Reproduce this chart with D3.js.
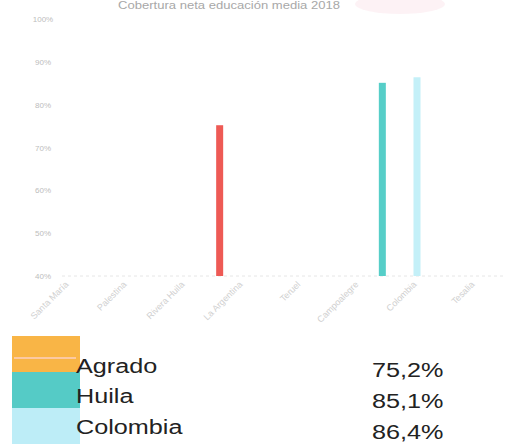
<!DOCTYPE html>
<html><head><meta charset="utf-8">
<script src="https://cdn.jsdelivr.net/npm/d3@7"></script>
<style>body{margin:0;background:#fff}svg{display:block}</style>
</head><body><svg id="c" width="507" height="448"></svg>
<script>
const title = "Cobertura neta educación media 2018";
const categories = ["Santa María","Palestina","Rivera Huila","La Argentina","Teruel","Campoalegre","Colombia","Tesalia"];
const series = ["Agrado","Huila","Colombia"];
const values = [75.2, 85.1, 86.4];
const barCategory = ["La Argentina","Campoalegre","Colombia"];
const slotOrder = ["Agrado","Colombia","Huila"];
const yTicks = [40,50,60,70,80,90,100];
const barColors = ["#ee5a55","#56cec8","#c4f0f8"];
const legendColors = ["#f9b546","#55cbc6","#bdedf7"];
const valueLabels = ["75,2%","85,1%","86,4%"];

const svg = d3.select("#c");
const x = d3.scaleBand().domain(categories).range([40,504]);
const sub = d3.scaleBand().domain(slotOrder).range([-35,35]);
const y = d3.scaleLinear().domain([40,100]).range([276,19]);

// faint title
svg.append("text").attr("x",118).attr("y",9).attr("textLength",222).attr("lengthAdjust","spacingAndGlyphs")
  .attr("font-family","Liberation Sans, Arial").attr("font-size",10).attr("fill","#a8a8a8").text(title);
svg.append("ellipse").attr("cx",400).attr("cy",4).attr("rx",45).attr("ry",10).attr("fill","#fbe9ef").attr("opacity",0.6);

// baseline dashed
svg.append("line").attr("x1",62).attr("x2",504).attr("y1",y(40)).attr("y2",y(40))
  .attr("stroke","#e6e6e6").attr("stroke-dasharray","3,3");

// y labels
svg.append("g").selectAll("text").data(yTicks).join("text")
  .attr("x",43).attr("y",d=>y(d)+3).attr("text-anchor","middle")
  .attr("font-family","Liberation Sans, Arial").attr("font-size",8).attr("fill","#bdbdbd")
  .text(d=>d+"%");

// x labels
svg.append("g").selectAll("text").data(categories).join("text")
  .attr("transform",d=>`translate(${x(d)+x.bandwidth()/2},${285}) rotate(-45)`)
  .attr("text-anchor","end")
  .attr("font-family","Liberation Sans, Arial").attr("font-size",9).attr("fill","#cfcfcf")
  .text(d=>d);

// bars
const bw = 7;
svg.append("g").selectAll("rect").data(series).join("rect")
  .attr("x",(d,i)=>x(barCategory[i])+x.bandwidth()/2+sub(d)+sub.bandwidth()/2-bw/2)
  .attr("width",bw)
  .attr("y",(d,i)=>y(values[i]))
  .attr("height",(d,i)=>y(40)-y(values[i]))
  .attr("fill",(d,i)=>barColors[i]);

// legend
const ly = d3.scaleBand().domain(series).range([336,444]);
const lg = svg.append("g");
lg.selectAll("rect").data(series).join("rect")
  .attr("x",12).attr("width",68).attr("y",d=>ly(d)).attr("height",ly.bandwidth())
  .attr("fill",(d,i)=>legendColors[i]);
lg.append("line").attr("x1",14).attr("x2",76).attr("y1",358).attr("y2",358).attr("stroke","#fcd0c0").attr("stroke-width",1.5);
const nameBase = [373,403,434];
const valBase = [377,408,439];
lg.selectAll("text.n").data(series).join("text").attr("class","n")
  .attr("transform",(d,i)=>`translate(76,${nameBase[i]}) scale(1.2,1)`)
  .attr("font-family","Liberation Sans, Arial").attr("font-size",21).attr("fill","#222")
  .text(d=>d);
lg.selectAll("text.v").data(valueLabels).join("text").attr("class","v")
  .attr("transform",(d,i)=>`translate(372,${valBase[i]}) scale(1.2,1)`)
  .attr("font-family","Liberation Sans, Arial").attr("font-size",21).attr("fill","#222")
  .text(d=>d);
</script></body></html>
